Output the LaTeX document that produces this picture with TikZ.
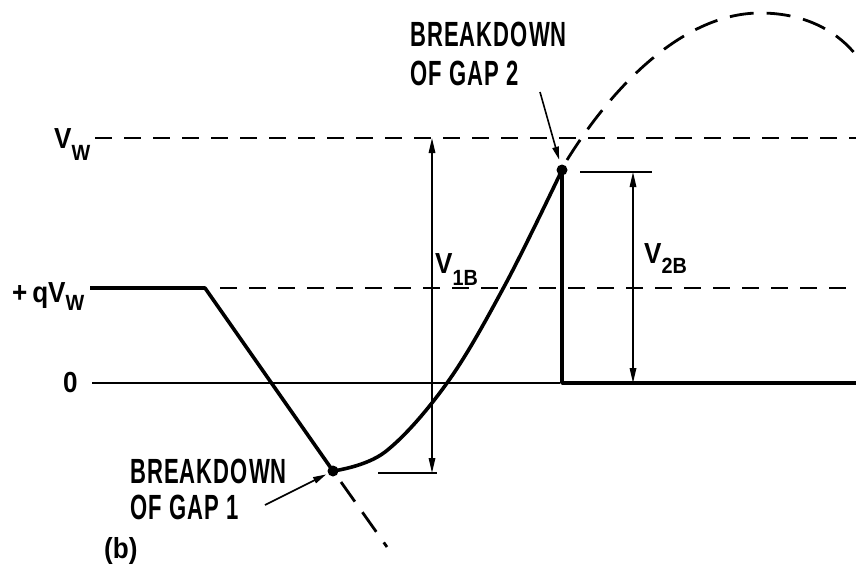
\documentclass[tikz,border=0pt]{standalone}
\usepackage{fontspec}
\setmainfont{Liberation Sans}
\newfontfamily\labfont[FakeStretch=0.9]{Liberation Sans Bold}
\newfontfamily\narrowfont[FakeStretch=0.63,LetterSpace=3]{Liberation Sans Bold}
\usetikzlibrary{arrows.meta}
\newcommand\sbx[2]{\raisebox{#1}{\fontsize{22}{22}\selectfont #2}}
\begin{document}
\begin{tikzpicture}[x=1pt,y=-1pt,
 thinline/.style={line width=2pt},
 thickline/.style={line width=3.6pt, line join=round},
 dashline/.style={line width=2pt, dash pattern=on 17pt off 12pt},
 bigdash/.style={line width=2.8pt, dash pattern=on 24pt off 13pt},
 dim/.style={line width=1.6pt, {Triangle[length=15pt,width=6.5pt]}-{Triangle[length=15pt,width=6.5pt]}},
 pointer/.style={line width=1.6pt, -{Triangle[length=13pt,width=6.5pt]}},
 dot/.style={circle, fill, inner sep=0, minimum size=11pt},
 lab/.style={inner sep=0, anchor=base west, font=\labfont\fontsize{29}{32}\selectfont},
 big/.style={inner sep=0, anchor=base west, text height=25pt, text depth=0pt, font=\narrowfont\fontsize{35}{38}\selectfont},
]
\useasboundingbox (0,0) rectangle (856,573);
% level lines
\draw[dashline] (95,138) -- (856,138);
\draw[dashline] (220,288) -- (856,288);
\draw[thinline] (92,383) -- (560,383);
% dots
\node[dot] (g1) at (333,471) {};
\node[dot] (g2) at (562,170) {};
% waveform
\draw[thickline] (90,288) -- (205,288) -- (g1.center);
\draw[thickline] plot[smooth, tension=0.6] coordinates {(333,471) (385,452) (447,383) (505,285) (562,170)};
\draw[thickline] (g2.center) -- (562,383) -- (856,383);
% dashed continuations
\draw[bigdash] (341,482) -- (387,547);
\draw[bigdash] (567,160) .. controls (620,75) and (690,13) .. (760,13) .. controls (810,13) and (840,35) .. (856,55);
% dimensions
\draw[thinline] (378,473) -- (437,473);
\draw[thinline] (580,172) -- (652,172);
\draw[dim] (432,138) -- (432,473);
\draw[dim] (633,172) -- (633,383);
% labels
\node[lab] (vw) at (54,148) {V\sbx{-12pt}{W}};
\node[lab] (qvw) at (12,302) {+\,qV\sbx{-8pt}{W}};
\node[lab] (zero) at (63,392) {0};
\node[lab] (v1b) at (435,273) {V\sbx{-12pt}{1B}};
\node[lab] (v2b) at (644,263) {V\sbx{-10pt}{2B}};
\node[lab] (b) at (104,558) {(b)};
\node[big] (bd2a) at (410,46) {BREAKDOWN};
\node[big] (bd2b) at (410,85) {OF GAP 2};
\node[big] (bd1a) at (130,483) {BREAKDOWN};
\node[big] (bd1b) at (130,519) {OF GAP 1};
% pointers
\coordinate (t2) at (540,92);
\coordinate (t1) at (265,505);
\draw[pointer, shorten >=5pt] (t2) -- (g2);
\draw[pointer, shorten >=2pt] (t1) -- (g1);
\end{tikzpicture}
\end{document}
